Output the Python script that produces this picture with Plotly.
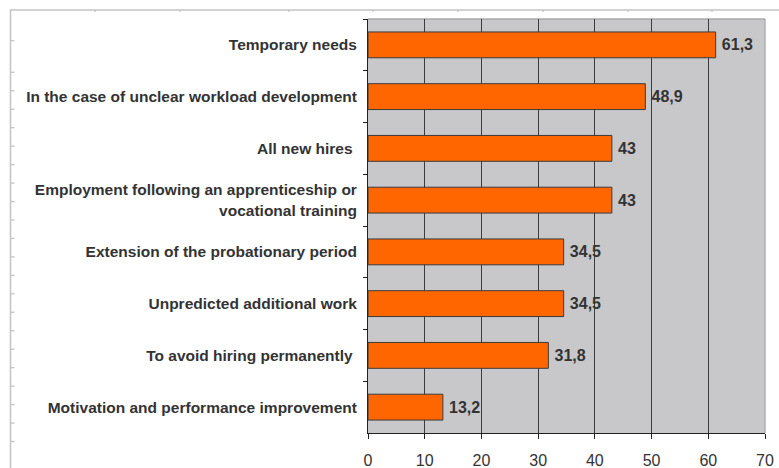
import plotly.graph_objects as go

categories = [
    "Temporary needs",
    "In the case of unclear workload development",
    "All new hires ",
    "Employment following an apprenticeship or<br>vocational training",
    "Extension of the probationary period",
    "Unpredicted additional work",
    "To avoid hiring permanently ",
    "Motivation and performance improvement",
]
values = [61.3, 48.9, 43, 43, 34.5, 34.5, 31.8, 13.2]
value_labels = ["61,3", "48,9", "43", "43", "34,5", "34,5", "31,8", "13,2"]
x_ticks = [0, 10, 20, 30, 40, 50, 60, 70]

W, H = 779, 468
L, R, T, B = 368, 765, 19, 433  # plot area in window pixels

def px(x):
    return (x - L) / (R - L)

def py(y):
    return (B - y) / (B - T)

fig = go.Figure(go.Bar(
    x=values, y=categories, orientation="h",
    marker=dict(color="#ff6600", line=dict(color="#3a3a3a", width=1)),
    width=0.5,
    text=["\u2009" + v for v in value_labels], textposition="outside", cliponaxis=False,
    textfont=dict(family="Liberation Sans, Arial", size=16, color="#333333", weight="bold"),
    hoverinfo="skip",
))

shapes = []
frame_col = "#c4c4c4"
shapes.append(dict(type="rect", xref="paper", yref="paper", x0=px(10.5), x1=px(800), y0=py(10), y1=py(490),
                   line=dict(color=frame_col, width=1.5), fillcolor="rgba(0,0,0,0)", layer="above"))
left_ticks = [40.7] + [72.3 + 18.46 * i for i in range(21)]
for yy in left_ticks:
    if yy < 466:
        shapes.append(dict(type="line", xref="paper", yref="paper", x0=px(10.5), x1=px(14.5), y0=py(yy), y1=py(yy),
                           line=dict(color=frame_col, width=1.3), layer="above"))
top_ticks = [95, 180, 289, 373, 458, 543, 628, 712]
for xx in top_ticks:
    shapes.append(dict(type="line", xref="paper", yref="paper", x0=px(xx), x1=px(xx), y0=py(10), y1=py(12),
                       line=dict(color=frame_col, width=1.3), layer="above"))
shapes.append(dict(type="line", xref="paper", yref="paper", x0=0, x1=1, y0=1, y1=1,
                   line=dict(color="#a8a8a8", width=1.3), layer="below"))
shapes.append(dict(type="line", xref="paper", yref="paper", x0=1, x1=1, y0=0, y1=1,
                   line=dict(color="#a8a8a8", width=1.3), layer="below"))

fig.update_layout(
    width=W, height=H,
    margin=dict(l=L, r=W - R, t=T, b=H - B, pad=0, autoexpand=False),
    paper_bgcolor="white",
    plot_bgcolor="#c8c8cb",
    showlegend=False,
    bargap=0.5,
    shapes=shapes,
    font=dict(family="Liberation Sans, Arial", color="#333333"),
    xaxis=dict(
        range=[0, 70], tickvals=x_ticks, ticktext=[str(v) for v in x_ticks],
        showgrid=True, gridcolor="#3c3c3c", gridwidth=1,
        showline=True, linecolor="#222222", linewidth=1,
        ticks="outside", ticklen=5, tickcolor="#222222",
        tickfont=dict(size=16, color="#333333"),
        ticklabelstandoff=8,
        zeroline=False, fixedrange=True, automargin=False,
    ),
    yaxis=dict(
        autorange="reversed",
        showgrid=False,
        showline=True, linecolor="#222222", linewidth=1,
        ticks="outside", ticklen=4, tickcolor="#222222", tickson="boundaries",
        tickfont=dict(size=15.5, color="#333333", weight="bold"),
        ticklabelstandoff=7,
        fixedrange=True, automargin=False,
    ),
)

fig.write_html(
    "out.html",
    config={"displayModeBar": False, "staticPlot": True},
    post_script="document.body.style.margin='0';document.body.style.overflow='hidden';",
)
